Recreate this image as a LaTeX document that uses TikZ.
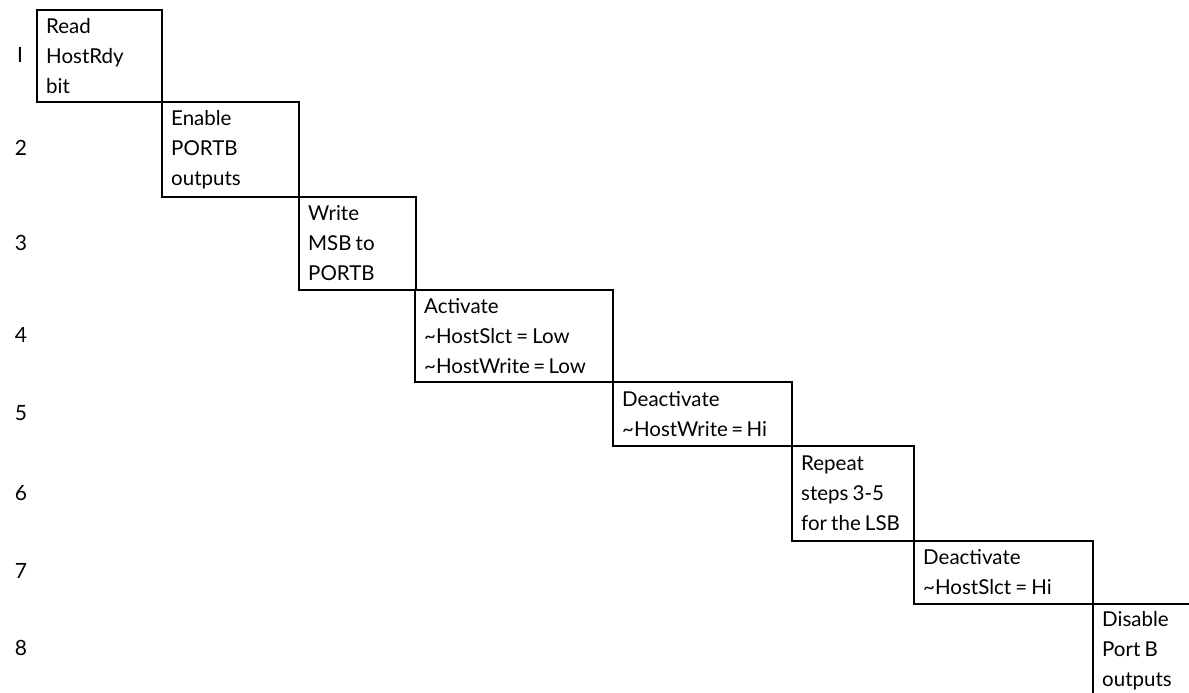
\documentclass[tikz,border=0pt]{standalone}
\usepackage{fontspec}
\setmainfont{Lato}
\newcommand\mysteptextfont{\fontsize{20.5}{30}\selectfont\spaceskip=0.2em plus 0.05em minus 0.02em\relax}
\begin{document}
\begin{tikzpicture}[x=1pt,y=-1pt,
  stepbox/.style={draw=black, line width=1.8pt, anchor=north west, inner sep=0pt},
  steptext/.style={anchor=west, align=left, inner sep=0pt, xshift=10pt,
    font=\mysteptextfont},
  rownum/.style={font=\fontsize{21}{24}\selectfont, anchor=center}]
\useasboundingbox (0,0) rectangle (1189,693);
\clip (0,0) rectangle (1189,693);
\fill[white] (0,0) rectangle (1189,693);
\node[stepbox, minimum width=125pt, minimum height=92pt] (b1) at (36,9) {};
\node[stepbox, minimum width=137pt, minimum height=95pt] (b2) at (161,101) {};
\node[stepbox, minimum width=117pt, minimum height=93pt] (b3) at (298,196) {};
\node[stepbox, minimum width=198pt, minimum height=92pt] (b4) at (414,289) {};
\node[stepbox, minimum width=179pt, minimum height=64pt] (b5) at (612,381) {};
\node[stepbox, minimum width=122pt, minimum height=95pt] (b6) at (791,445) {};
\node[stepbox, minimum width=179pt, minimum height=63pt] (b7) at (913,540) {};
\node[stepbox, minimum width=140pt, minimum height=94pt] (b8) at (1092,603) {};
\node[steptext] (t1) at (b1.west) {Read\\HostRdy\\bit};
\node[steptext] (t2) at (b2.west) {Enable\\PORTB\\outputs};
\node[steptext] (t3) at (b3.west) {Write\\MSB to\\PORTB};
\node[steptext] (t4) at (b4.west) {Activate\\\textasciitilde HostSlct = Low\\\textasciitilde HostWrite\,=\,Low};
\node[steptext] (t5) at (b5.west) {Deactivate\\\textasciitilde HostWrite\,=\,Hi};
\node[steptext] (t6) at (b6.west) {Repeat\\steps 3-5\\for the LSB};
\node[steptext] (t7) at (b7.west) {Deactivate\\\textasciitilde HostSlct = Hi};
\node[steptext] (t8) at (b8.west) {Disable\\Port B\\outputs};
\node[rownum] (n1) at (20,55) {I};
\node[rownum] (n2) at (21,148) {2};
\node[rownum] (n3) at (21,243) {3};
\node[rownum] (n4) at (21,335) {4};
\node[rownum] (n5) at (21,413) {5};
\node[rownum] (n6) at (21,493) {6};
\node[rownum] (n7) at (21,571) {7};
\node[rownum] (n8) at (21,648) {8};
\end{tikzpicture}
\end{document}
